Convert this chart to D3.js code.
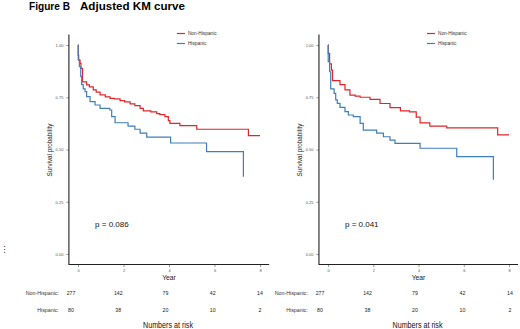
<!DOCTYPE html>
<html>
<head>
<meta charset="utf-8">
<script src="https://cdn.jsdelivr.net/npm/d3@7"></script>
<style>
  body { margin: 0; background: #fff; }
  text { font-family: "Liberation Sans", Arial, sans-serif; }
</style>
</head>
<body>
<script>
const WIDTH = 520;
const HEIGHT = 329;

// survival steps: [year, survival]
var leftNonHispanic = [[0,1],[0.01,0.952],[0.03,0.928],[0.09,0.912],[0.13,0.888],[0.2,0.824],[0.38,0.809],
    [0.5,0.8],[0.67,0.785],[0.8,0.775],[0.97,0.761],[1.2,0.752],[1.41,0.745],[1.6,0.742],[1.85,0.734],
    [2.05,0.728],[2.29,0.718],[2.5,0.71],[2.73,0.697],[2.87,0.685],[3.2,0.68],[3.46,0.672],[3.6,0.667],
    [3.82,0.657],[3.97,0.638],[4.04,0.625],[4.48,0.614],[5.22,0.597],[7.49,0.566],[8.0,0.566]];
var leftHispanic = [[0,1],[0.01,0.93],[0.06,0.896],[0.12,0.85],[0.16,0.81],[0.23,0.79],[0.31,0.777],
    [0.38,0.753],[0.53,0.729],[0.75,0.713],[0.97,0.697],[1.4,0.689],[1.48,0.657],[1.63,0.628],[2.2,0.612],
    [2.5,0.597],[2.73,0.578],[3.02,0.559],[4.07,0.531],[5.65,0.49],[7.27,0.49],[7.27,0.37]];
var rightNonHispanic = [[0,1],[0.01,0.96],[0.07,0.91],[0.15,0.88],[0.2,0.83],[0.53,0.81],[0.75,0.785],
    [0.97,0.76],[1.2,0.755],[1.42,0.75],[1.86,0.74],[2.3,0.72],[2.74,0.70],[3.2,0.685],[3.6,0.68],
    [3.9,0.655],[4.07,0.627],[4.5,0.612],[5.25,0.603],[7.5,0.57],[8.0,0.57]];
var rightHispanic = [[0,1],[0.01,0.92],[0.07,0.872],[0.12,0.79],[0.27,0.769],[0.34,0.737],[0.41,0.721],
    [0.53,0.702],[0.75,0.681],[0.9,0.665],[1.12,0.657],[1.42,0.625],[1.56,0.593],[2.15,0.578],[2.45,0.561],
    [2.74,0.545],[2.96,0.529],[4.07,0.506],[5.69,0.466],[7.31,0.466],[7.31,0.355]];

var groups = ['Non-Hispanic', 'Hispanic'];
var riskTimes = [0, 2, 4, 6, 8];
var riskNonHispanic = [277, 142, 79, 42, 14];
var riskHispanic = [80, 38, 20, 10, 2];
var yTicks = [0, 0.25, 0.5, 0.75, 1];
var xTicks = [0, 2, 4, 6, 8];
var pValues = ['p = 0.086', 'p = 0.041'];

var colors = ['#e0262a', '#3f7fb9'];

var svg = d3.select('body').append('svg')
    .attr('width', WIDTH)
    .attr('height', HEIGHT);

svg.append('text')
    .attr('x', 29).attr('y', 10)
    .attr('font-family', '"Liberation Serif", serif')
    .attr('font-weight', 'bold')
    .attr('font-size', 10)
    .attr('textLength', 41).attr('lengthAdjust', 'spacingAndGlyphs')
    .text('Figure B');
svg.append('text')
    .attr('x', 80).attr('y', 10)
    .attr('font-family', '"Liberation Serif", serif')
    .attr('font-weight', 'bold')
    .attr('font-size', 10)
    .attr('textLength', 105).attr('lengthAdjust', 'spacingAndGlyphs')
    .text('Adjusted KM curve');

svg.append('text')
    .attr('x', 0).attr('y', 253)
    .attr('font-size', 9)
    .attr('fill', '#333')
    .text('\u22EE');

var loadPanel = function (x0, x8, risk0, risk8, curves, pText) {
    var xScale = d3.scaleLinear().domain([0, 8]).range([x0, x8]);
    var yScale = d3.scaleLinear().domain([0, 1]).range([254, 45]);
    var riskScale = d3.scaleLinear().domain([0, 8]).range([risk0, risk8]);
    var left = xScale(-0.4), right = xScale(8.4);

    var g = svg.append('g');

    var yAxis = d3.axisLeft(yScale).tickValues(yTicks).tickFormat(d3.format('.2f'))
        .tickSize(2.5).tickPadding(3);
    var ya = g.append('g').attr('transform', 'translate(' + left + ',0)').call(yAxis);
    ya.select('.domain').remove();
    ya.selectAll('text').attr('font-size', 4).attr('fill', '#555');
    ya.selectAll('line').attr('stroke', '#555').attr('stroke-width', 0.6);

    var xAxis = d3.axisBottom(xScale).tickValues(xTicks).tickSize(2.5).tickPadding(2);
    var xa = g.append('g').attr('transform', 'translate(0,264.5)').call(xAxis);
    xa.select('.domain').remove();
    xa.selectAll('text').attr('font-size', 4).attr('fill', '#555');
    xa.selectAll('line').attr('stroke', '#555').attr('stroke-width', 0.6);

    g.append('path')
        .attr('d', 'M' + left + ',' + yScale(1.05) + 'V264.5H' + right)
        .attr('fill', 'none').attr('stroke', '#222').attr('stroke-width', 1.1);

    var line = d3.line()
        .x(function (d) { return xScale(d[0]); })
        .y(function (d) { return yScale(d[1]); })
        .curve(d3.curveStepAfter);

    curves.forEach(function (c, i) {
        g.append('path')
            .attr('d', line(c))
            .attr('fill', 'none')
            .attr('stroke', colors[i])
            .attr('stroke-width', 1.2);
    });

    groups.forEach(function (name, i) {
        var ly = 33.5 + i * 10;
        g.append('line')
            .attr('x1', left + 108).attr('x2', left + 116)
            .attr('y1', ly).attr('y2', ly)
            .attr('stroke', colors[i]).attr('stroke-width', 1.2);
        g.append('text')
            .attr('x', left + 119).attr('y', ly + 1.7)
            .attr('font-size', 4.8).attr('fill', '#333')
            .text(name);
    });

    g.append('text')
        .attr('transform', 'translate(' + (left - 17) + ',150) rotate(-90)')
        .attr('text-anchor', 'middle')
        .attr('font-size', 6.3).attr('fill', '#222')
        .text('Survival probability');

    g.append('text')
        .attr('x', xScale(4)).attr('y', 279.5)
        .attr('text-anchor', 'middle')
        .attr('font-size', 6.8).attr('fill', '#222')
        .text('Year');

    g.append('text')
        .attr('x', xScale(0.75)).attr('y', 227)
        .attr('font-size', 8).attr('fill', '#111')
        .text(pText);

    [riskNonHispanic, riskHispanic].forEach(function (row, i) {
        var ry = 295 + i * 17;
        g.append('text')
            .attr('x', riskScale(0) - 12).attr('y', ry)
            .attr('text-anchor', 'end')
            .attr('font-size', 5.3).attr('fill', '#333')
            .text(groups[i] + ':');
        g.selectAll(null)
            .data(row)
            .enter().append('text')
            .attr('x', function (d, j) { return riskScale(riskTimes[j]); })
            .attr('y', ry)
            .attr('text-anchor', 'middle')
            .attr('font-size', 5.2).attr('fill', '#222')
            .text(function (d) { return d; });
    });

    g.append('text')
        .attr('x', xScale(4) - 1).attr('y', 328)
        .attr('text-anchor', 'middle')
        .attr('font-size', 9).attr('fill', '#111')
        .attr('textLength', 50).attr('lengthAdjust', 'spacingAndGlyphs')
        .text('Numbers at risk');
};

loadPanel(78, 260, 71, 260, [leftNonHispanic, leftHispanic], pValues[0]);
loadPanel(328, 509, 320, 510, [rightNonHispanic, rightHispanic], pValues[1]);
</script>
</body>
</html>
